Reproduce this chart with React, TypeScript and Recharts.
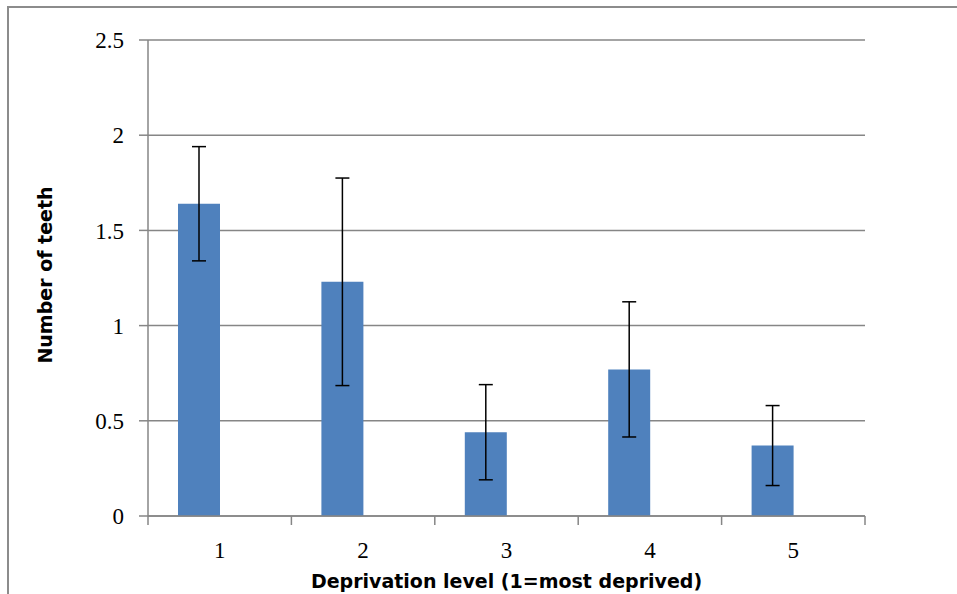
import { BarChart, Bar, XAxis, YAxis, CartesianGrid, ErrorBar } from 'recharts'

const categories = ['1', '2', '3', '4', '5']
const means = [1.64, 1.23, 0.44, 0.77, 0.37]
const errors = [0.3, 0.545, 0.25, 0.355, 0.21]
const yTicks = [0, 0.5, 1, 1.5, 2, 2.5]

const W = 957
const H = 594
const margin = { top: 40, right: 92, left: 88, bottom: 38 }
const Y_AXIS_W = 60
const BAND = (W - margin.left - margin.right - Y_AXIS_W) / categories.length

const data = categories.map((c, i) => ({ name: c, mean: means[i], err: errors[i], blank: null }))

const GRID = '#868686'
const serif = '"Liberation Serif", "DejaVu Serif", serif'
const sans = '"DejaVu Sans", sans-serif'

function XTick(props: any) {
  const { x, y, payload, index } = props
  return (
    <g>
      <line x1={x - BAND / 2} x2={x - BAND / 2} y1={y} y2={y + 9} stroke={GRID} strokeWidth={1.5} />
      {index === categories.length - 1 && (
        <line x1={x + BAND / 2} x2={x + BAND / 2} y1={y} y2={y + 9} stroke={GRID} strokeWidth={1.5} />
      )}
      <text x={x} y={y + 42} textAnchor="middle" fontFamily={serif} fontSize={23} fill="#000">
        {payload.value}
      </text>
    </g>
  )
}

export default function App() {
  return (
    <div style={{ position: 'absolute', left: 0, top: 0, width: W, height: H, background: '#fff', overflow: 'hidden' }}>
      <div
        style={{
          position: 'absolute',
          left: 7,
          top: 6,
          right: 0,
          bottom: 0,
          borderLeft: '2px solid #8c8c8c',
          borderTop: '2px solid #8c8c8c',
        }}
      />
      <BarChart width={W} height={H} data={data} margin={margin} barCategoryGap={30} barGap={0}>
        <CartesianGrid vertical={false} stroke={GRID} strokeWidth={1.5} />
        <XAxis
          dataKey="name"
          axisLine={{ stroke: GRID, strokeWidth: 1.5 }}
          tickLine={false}
          tickSize={0}
          tickMargin={0}
          height={40}
          tick={<XTick />}
          interval={0}
        />
        <YAxis
          width={Y_AXIS_W}
          domain={[0, 2.5]}
          ticks={yTicks}
          interval={0}
          axisLine={{ stroke: GRID, strokeWidth: 1.5 }}
          tickLine={{ stroke: GRID, strokeWidth: 1.5 }}
          tickSize={9}
          tickMargin={15}
          tick={{ fontFamily: serif, fontSize: 23, fill: '#000' }}
        />
        <Bar dataKey="mean" fill="#4F81BD" isAnimationActive={false}>
          <ErrorBar dataKey="err" width={7} stroke="#000" strokeWidth={1.5} direction="y" />
        </Bar>
        <Bar dataKey="blank" fill="#C0504D" isAnimationActive={false} />
      </BarChart>
      <div
        style={{
          position: 'absolute',
          left: 148,
          width: 717,
          top: 569,
          textAlign: 'center',
          fontFamily: sans,
          fontWeight: 700,
          fontSize: 19,
          lineHeight: '24px',
          color: '#000',
          whiteSpace: 'nowrap',
        }}
      >
        Deprivation level (1=most deprived)
      </div>
      <div
        style={{
          position: 'absolute',
          left: 45 - 150,
          top: 275 - 12,
          width: 300,
          textAlign: 'center',
          transform: 'rotate(-90deg)',
          fontFamily: sans,
          fontWeight: 700,
          fontSize: 19,
          lineHeight: '24px',
          color: '#000',
          whiteSpace: 'nowrap',
        }}
      >
        Number of teeth
      </div>
    </div>
  )
}
